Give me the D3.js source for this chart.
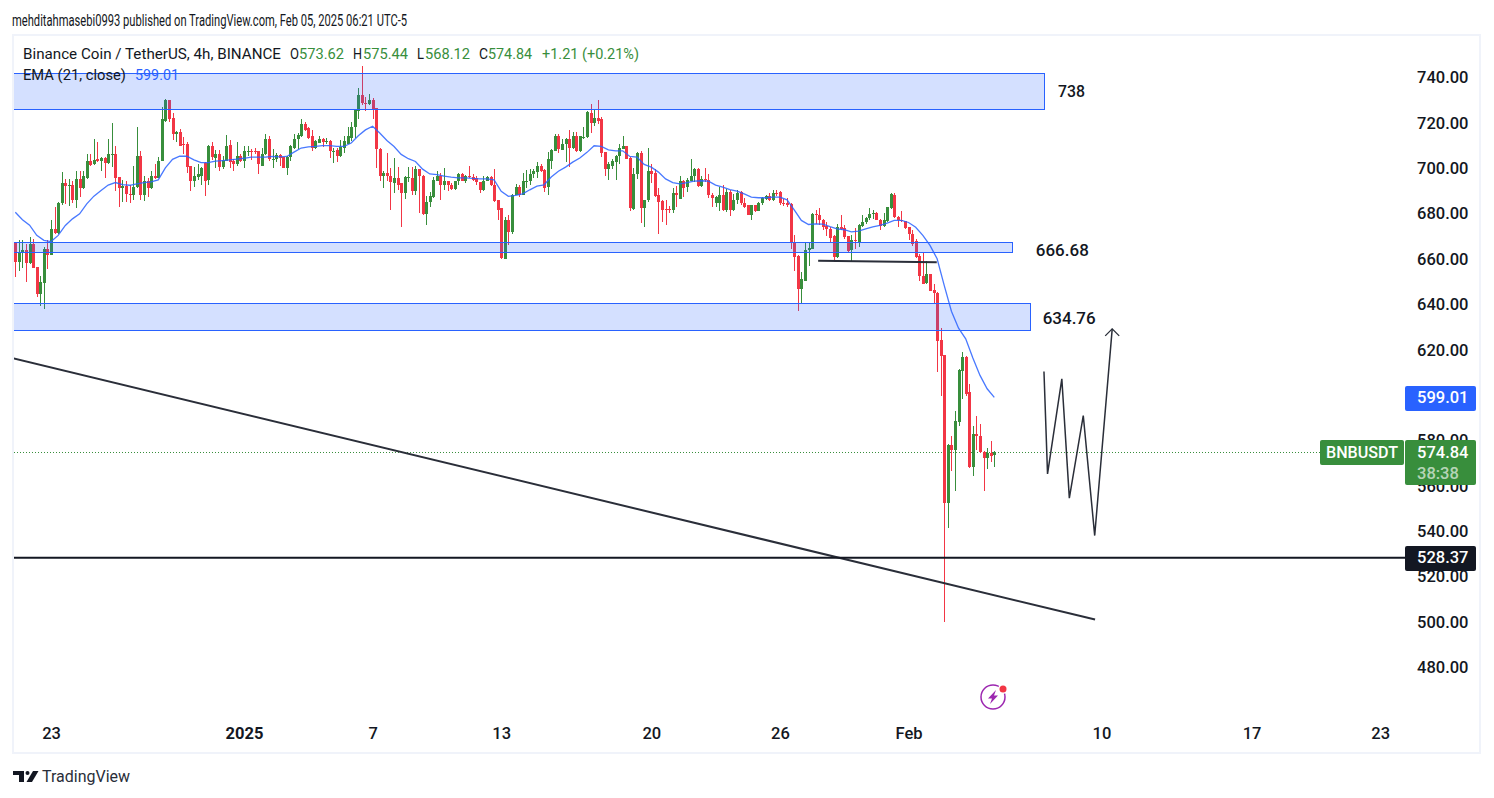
<!DOCTYPE html>
<html>
<head>
<meta charset="utf-8">
<title>BNBUSDT</title>
<script src="https://cdn.jsdelivr.net/npm/d3@7"></script>
<style>
body { margin: 0; background: #fff; }
svg { display: block; }
text { font-family: Roboto, "Noto Sans", sans-serif; fill: #131722; }
</style>
</head>
<body>
<script>
// 4h candles, one row = 10 candles
var opens = [
667.1,658.6,662.6,663.8,658.2,666.4,656.3,644.5,649.4,664.2,
661.9,673.3,671.4,684.6,693.7,692.0,692.4,685.8,695.1,691.5,
695.8,703.4,701.8,703.9,703.2,704.3,702.1,706.1,706.5,696.0,
691.2,692.1,688.8,688.4,691.7,705.6,688.0,694.6,691.2,696.8,
695.7,703.1,720.8,729.9,722.0,715.2,715.9,710.8,710.8,700.8,
694.3,696.1,696.8,702.3,694.9,710.0,704.6,706.4,700.5,703.4,
710.3,703.1,701.7,705.2,703.1,707.1,707.8,707.5,707.4,701.2,
706.1,713.1,703.9,704.0,705.9,704.9,700.1,704.9,709.0,712.8,
714.0,719.3,717.7,714.0,708.9,711.3,713.1,712.1,712.2,707.5,
708.0,705.3,709.0,710.8,713.4,718.1,725.2,732.1,728.8,728.1,
730.3,726.5,708.7,696.5,697.7,696.8,693.7,695.5,693.3,689.0,
695.8,695.9,689.8,699.5,696.8,679.8,685.1,687.3,694.6,696.8,
692.4,694.2,692.8,691.0,694.3,697.3,694.6,696.7,696.2,695.8,
693.9,690.2,694.6,696.1,692.8,685.8,682.3,660.1,677.0,672.1,
688.1,691.7,688.4,693.9,694.2,697.3,698.3,700.8,699.3,691.7,
703.4,707.8,714.4,708.1,710.8,713.0,708.9,714.4,707.4,713.6,
713.7,724.4,719.9,722.2,721.5,707.0,699.5,701.2,702.7,705.3,
708.6,709.6,704.6,682.1,697.3,706.8,682.4,685.8,698.6,697.7,
688.0,685.4,682.1,682.1,681.4,689.0,686.5,694.6,691.7,694.6,
696.5,699.5,692.0,695.3,695.0,688.4,684.9,684.8,688.0,681.8,
689.5,681.4,685.8,689.5,684.8,683.6,679.6,683.6,681.1,684.8,
686.5,687.9,685.8,689.2,689.5,684.9,684.6,684.3,667.3,661.4,
646.6,650.5,663.8,664.6,679.8,679.2,677.3,674.5,673.3,670.1,
660.7,674.3,673.7,670.1,663.8,668.2,667.4,674.5,676.1,678.0,
679.8,680.2,677.3,674.6,676.7,682.4,688.4,678.7,677.0,676.7,
674.0,671.2,667.9,661.3,652.6,649.4,653.2,646.4,645.1,624.1,
617.5,552.4,577.8,575.6,588.1,610.6,617.0,601.2,568.1,582.7,
582.2,574.9,572.2,574.6,573.62];

var highs = [
667.7,668.2,668.2,666.7,669.5,668.9,656.5,652.6,665.2,668.2,
677.0,682.7,685.0,698.2,695.4,695.1,694.3,698.6,698.6,698.6,
706.1,706.1,713.1,711.4,704.9,704.9,713.0,719.8,709.6,696.2,
694.9,694.3,692.4,700.8,718.4,707.4,696.5,695.7,698.6,701.8,
704.9,727.2,730.6,730.3,724.4,716.3,717.1,713.6,711.5,701.0,
700.5,701.7,700.5,702.7,710.2,711.5,708.1,708.1,705.3,714.7,
712.5,704.2,711.5,706.4,709.6,709.8,708.6,709.0,707.6,709.0,
715.3,714.4,708.7,706.7,706.4,705.1,705.2,710.3,715.2,715.6,
721.5,720.3,718.1,716.9,712.5,714.4,713.3,713.4,712.5,709.0,
709.0,712.5,714.1,718.1,720.2,725.7,735.2,744.9,731.3,732.8,
731.0,726.7,708.9,698.6,706.8,700.3,704.7,700.5,693.5,696.8,
700.5,700.5,701.2,699.7,697.0,687.6,689.5,696.1,698.6,697.8,
700.2,694.4,693.4,694.6,697.8,697.8,697.0,701.2,697.5,696.4,
694.1,696.8,696.5,696.8,699.7,686.0,682.5,678.7,679.2,688.6,
692.9,692.7,697.7,699.3,699.5,699.8,702.7,702.0,699.5,707.1,
708.6,715.2,715.2,713.0,713.3,717.0,715.9,715.9,714.2,718.4,
725.2,728.4,725.9,729.9,722.5,707.2,702.7,704.2,706.0,710.8,
714.4,710.0,704.9,700.2,707.1,707.5,686.2,709.0,701.7,699.8,
691.4,685.8,685.8,683.2,691.4,692.0,696.8,694.9,695.8,703.9,
700.2,700.2,696.4,700.0,697.3,689.0,687.6,691.7,692.4,691.0,
690.2,688.7,690.2,689.8,687.1,683.8,684.0,683.9,685.1,687.3,
688.2,689.0,690.2,690.6,689.9,686.5,686.7,684.5,670.4,661.6,
654.3,667.7,667.4,680.2,681.4,682.6,677.5,676.2,674.0,670.4,
675.5,679.5,675.2,670.3,670.7,673.7,675.5,679.5,678.7,682.6,
681.4,680.5,677.5,680.4,682.9,688.9,689.2,678.9,681.2,676.9,
674.2,672.6,668.9,662.3,662.6,658.9,653.4,649.1,645.3,629.8,
617.7,578.3,582.2,593.2,611.3,618.8,617.2,605.0,586.6,590.6,
587.4,575.3,576.8,579.6,575.44];

var lows = [
652.0,654.7,656.0,649.8,658.0,656.0,643.2,639.2,637.9,655.4,
661.7,670.8,671.1,683.6,684.2,683.3,684.6,682.4,687.3,691.0,
695.4,700.8,701.5,702.8,698.6,695.8,701.8,700.5,689.8,682.9,
685.1,685.1,684.6,686.2,691.5,686.2,685.4,687.3,691.0,695.4,
695.5,703.0,720.2,720.6,712.5,711.5,709.8,706.1,697.9,689.9,
691.7,694.9,692.4,687.7,692.7,703.5,700.2,699.0,699.8,703.2,
700.0,699.0,701.1,702.7,700.0,705.2,703.7,706.4,697.5,701.0,
705.9,703.1,700.1,702.7,700.8,699.9,697.0,703.0,708.6,708.6,
713.7,716.6,712.7,707.5,708.6,711.2,709.3,710.5,704.5,702.3,
702.7,705.1,706.7,710.5,712.2,713.4,721.8,727.7,725.2,727.7,
721.8,700.1,694.6,691.1,694.6,681.4,689.0,690.2,674.3,686.5,
693.9,688.4,688.0,680.4,679.6,674.8,682.9,687.1,694.3,685.8,
690.2,689.9,690.5,690.2,692.8,694.3,693.4,695.8,694.6,692.4,
689.3,690.0,694.3,692.0,685.1,677.3,660.1,659.8,666.0,670.8,
688.0,687.3,688.0,691.2,692.8,695.8,695.8,698.3,689.5,688.0,
699.5,707.5,706.7,708.0,702.7,700.5,708.6,707.1,707.2,712.7,
713.5,715.5,718.6,719.3,704.9,696.4,694.9,699.5,695.0,702.0,
708.4,703.9,681.1,681.7,695.4,676.0,674.0,685.1,693.4,687.3,
670.8,676.2,674.8,680.2,680.2,682.9,686.3,687.3,689.5,694.3,
693.9,691.7,691.7,693.9,687.0,682.9,682.9,681.0,681.1,680.6,
678.9,681.1,684.3,683.6,682.6,679.2,677.4,680.8,681.0,683.6,
685.8,685.5,685.5,687.6,683.6,683.4,683.1,664.3,654.6,637.3,
640.8,650.3,656.7,664.4,675.5,674.8,673.0,670.1,667.1,658.6,
660.5,672.9,668.9,662.7,659.0,664.2,665.5,674.0,675.5,677.0,
677.7,677.0,673.0,674.3,676.2,682.2,678.1,674.0,676.2,673.3,
668.4,665.9,660.5,650.5,648.8,649.1,645.8,640.5,610.1,599.8,
499.9,541.4,566.5,557.7,586.3,598.1,599.8,567.7,564.3,575.6,
574.4,557.7,567.4,570.5,568.12];

var closes = [
658.6,663.2,663.8,658.2,666.4,656.0,644.5,649.7,664.2,661.6,
673.3,671.4,684.9,693.7,692.0,692.4,685.8,695.1,691.5,696.4,
703.4,701.6,703.7,703.0,704.5,702.1,706.1,706.5,695.7,691.4,
692.0,688.8,688.6,691.8,705.6,688.0,694.5,691.2,696.8,695.7,
703.4,721.5,729.9,721.5,715.0,715.9,710.0,710.3,700.5,694.3,
696.4,697.4,700.2,694.6,710.0,704.9,706.5,700.5,703.7,710.0,
702.7,701.7,705.2,703.1,707.5,707.8,707.5,707.2,701.7,706.4,
713.1,704.0,704.0,705.9,704.5,700.1,704.9,709.7,713.1,714.6,
719.3,716.9,713.4,708.9,711.8,713.1,711.5,712.2,707.5,707.8,
705.3,709.3,712.2,714.0,718.4,725.5,732.1,728.7,728.4,730.3,
725.9,708.4,696.5,697.7,696.5,693.9,695.5,692.8,689.0,696.1,
696.1,689.9,699.5,696.5,679.9,685.3,687.6,695.0,696.5,692.4,
694.2,692.4,691.0,694.5,697.3,694.6,696.8,696.1,695.0,693.9,
690.2,694.6,696.1,692.4,685.5,681.8,660.4,677.0,672.1,688.4,
691.7,688.4,694.2,694.6,697.5,698.6,700.8,698.9,691.4,703.9,
708.1,714.4,708.3,710.8,713.0,708.9,714.4,707.4,714.0,713.9,
724.7,719.9,722.2,721.0,706.7,699.5,701.7,703.0,705.6,709.0,
709.6,704.2,682.4,697.5,706.8,682.4,686.1,698.6,697.3,687.6,
685.1,681.8,681.8,681.8,689.0,688.4,694.6,691.4,694.9,696.8,
699.5,692.0,695.3,694.9,688.0,686.8,687.3,688.0,681.8,689.5,
681.4,686.2,689.0,684.6,683.1,679.6,683.6,681.1,684.9,687.0,
687.9,685.8,689.3,688.9,684.6,684.3,683.9,667.0,661.1,646.6,
651.0,664.0,664.9,679.8,679.2,677.0,674.3,673.2,669.3,660.7,
674.3,673.3,669.6,663.6,668.2,667.9,675.1,676.5,678.1,679.9,
680.2,677.1,674.6,677.0,682.7,688.6,678.4,677.0,676.7,673.6,
671.1,666.7,660.8,652.4,649.1,653.2,646.1,644.9,623.8,617.2,
552.4,578.1,575.6,588.4,610.9,617.0,600.6,568.1,582.7,581.9,
574.9,572.2,574.3,573.0,574.84];

var emaValues = [
680.6,677.3,674.9,670.4,668.2,667.7,670.4,674.8,677.7,679.9,
684.3,687.7,690.2,692.6,693.7,692.8,692.5,693.1,693.7,694.0,
694.9,700.2,703.9,705.3,705.3,703.7,702.5,702.5,703.1,703.4,
703.7,704.0,704.4,704.9,704.9,704.9,705.2,705.0,705.2,707.1,
708.9,709.4,709.6,710.0,710.0,709.6,709.6,711.1,714.3,716.9,
718.5,715.5,712.2,709.6,706.1,704.2,703.0,699.6,697.5,697.2,
696.5,696.1,695.8,695.8,695.5,695.3,695.3,694.9,689.8,687.6,
688.0,688.7,690.5,692.1,692.7,696.1,698.7,700.5,702.7,704.5,
707.0,709.9,709.6,708.1,707.7,707.7,705.2,704.9,701.7,700.5,
698.3,695.3,693.7,693.1,693.7,694.3,694.5,694.3,692.6,691.7,
690.6,689.9,688.7,687.3,687.0,687.0,687.3,687.3,686.1,681.7,
677.0,675.2,675.5,675.4,674.3,673.3,672.9,672.0,672.3,673.3,
674.2,674.8,675.8,677.0,677.0,676.1,674.0,670.4,666.0,660.1,
648.3,637.0,629.5,624.8,616.4,608.7,602.8,599.01];

var priceTicks = [740, 720, 700, 680, 660, 640, 620, 580, 560, 540, 520, 500, 480];
var timeTicks = [
    Date.UTC(2024, 11, 23), Date.UTC(2025, 0, 1), Date.UTC(2025, 0, 7), Date.UTC(2025, 0, 13),
    Date.UTC(2025, 0, 20), Date.UTC(2025, 0, 26), Date.UTC(2025, 1, 1), Date.UTC(2025, 1, 10),
    Date.UTC(2025, 1, 17), Date.UTC(2025, 1, 23)
];
var timeLabels = ['23', '2025', '7', '13', '20', '26', 'Feb', '10', '17', '23'];

// supply and demand boxes (prices, last candle index they reach)
var zoneTops = [742.2, 667.3, 640.8];
var zoneBottoms = [726.3, 662.9, 628.6];
var zoneEnds = [287.9, 278.9, 283.9];
var zoneLabels = ['738', '666.68', '634.76'];
var zoneLabelOffsets = [14, 24, 13];
var zoneLabelWidths = [27, 53, 53];
var zoneLabelDrop = [1, 3, 2];

// drawings
var trendIdx = [-0.6, 302.2], trendPrices = [616.2, 501.1];
var shelfIdx = [224.7, 257.9], shelfPrices = [659.2, 658.6];
var zigIdx = [287.9, 288.9, 292.9, 295.0, 298.9, 302.1, 307.0];
var zigPrices = [610.4, 565.3, 607.2, 554.6, 591.0, 538.1, 629.2];
var supportPrice = 528.37, lastPrice = 574.84, emaLast = 599.01;

var width = 1494, height = 798,
    paneLeft = 14, paneRight = 1405, paneTop = 36, paneBottom = 720,
    green = '#388e3c', red = '#f23645', blue = '#2962ff', ink = '#131722';

var startTime = Date.UTC(2024, 11, 21, 8),
    stepMs = 4 * 3600 * 1000;

function timeOf(i) {
    return new Date(startTime + i * stepMs);
}

var x = d3.scaleUtc()
    .domain([timeOf(0), timeOf(274)])
    .range([15.3, 994.3]);

var y = d3.scaleLinear()
    .domain([740, 500])
    .range([77.5, 622]);

var svg = d3.select('body').append('svg')
    .attr('width', width)
    .attr('height', height);

svg.append('defs').append('clipPath')
    .attr('id', 'pane')
    .append('rect')
    .attr('x', paneLeft)
    .attr('y', paneTop)
    .attr('width', paneRight - paneLeft)
    .attr('height', paneBottom - paneTop);

// frame
svg.append('rect')
    .attr('x', 13)
    .attr('y', 35)
    .attr('width', 1467)
    .attr('height', 718)
    .attr('fill', 'none')
    .attr('stroke', '#f0f3fa')
    .attr('stroke-width', 2);

// Price axis goes first, the price tags sit over it
var yAxis = svg.append('g')
    .attr('transform', 'translate(' + paneRight + ',0)')
    .call(d3.axisRight(y).tickValues(priceTicks).tickSize(0).tickPadding(12).tickFormat(d3.format('.2f')));
yAxis.select('.domain').remove();
yAxis.selectAll('text')
    .style('font-family', 'Roboto')
    .style('font-size', '16.5px')
    .style('font-weight', 500)
    .style('fill', ink);

var xAxis = svg.append('g')
    .attr('transform', 'translate(0,' + paneBottom + ')')
    .call(d3.axisBottom(x)
        .tickValues(timeTicks.map(function (t) { return new Date(t); }))
        .tickSize(0)
        .tickPadding(7)
        .tickFormat(function (d, i) { return timeLabels[i]; }));
xAxis.select('.domain').remove();
xAxis.selectAll('text')
    .style('font-family', 'Roboto')
    .style('font-size', '16.5px')
    .style('font-weight', function (d, i) { return timeLabels[i] === '2025' ? 700 : 500; })
    .style('fill', ink);

var plot = svg.append('g').attr('clip-path', 'url(#pane)');

// last price dotted line
plot.append('line')
    .attr('x1', paneLeft)
    .attr('x2', 1320)
    .attr('y1', Math.round(y(lastPrice)) + 0.5)
    .attr('y2', Math.round(y(lastPrice)) + 0.5)
    .attr('stroke', green)
    .attr('stroke-dasharray', '1 2');

// candles
var candles = plot.append('g')
    .attr('shape-rendering', 'crispEdges')
    .selectAll('g')
    .data(d3.range(closes.length))
    .enter().append('g')
    .attr('fill', function (i) { return closes[i] >= opens[i] ? green : red; });

candles.append('rect')
    .attr('x', function (i) { return Math.round(x(timeOf(i))); })
    .attr('width', 1)
    .attr('y', function (i) { return Math.round(y(highs[i])); })
    .attr('height', function (i) { return Math.max(1, Math.round(y(lows[i])) - Math.round(y(highs[i]))); });

candles.append('rect')
    .attr('x', function (i) { return Math.round(x(timeOf(i))) - 1; })
    .attr('width', 3)
    .attr('y', function (i) { return Math.round(y(Math.max(opens[i], closes[i]))); })
    .attr('height', function (i) {
        return Math.max(1, Math.round(y(Math.min(opens[i], closes[i]))) - Math.round(y(Math.max(opens[i], closes[i]))));
    });

// EMA
var emaLine = d3.line()
    .x(function (d, i) { return x(timeOf(i * 2)); })
    .y(function (d) { return y(d); });

plot.append('path')
    .attr('d', emaLine(emaValues))
    .attr('fill', 'none')
    .attr('stroke', blue)
    .attr('stroke-opacity', 0.85)
    .attr('stroke-width', 1.3);

// boxes
zoneTops.forEach(function (top, n) {
    plot.append('rect')
        .attr('x', 0)
        .attr('y', Math.round(y(top)) + 0.5)
        .attr('width', Math.round(x(timeOf(zoneEnds[n]))) + 0.5)
        .attr('height', Math.round(y(zoneBottoms[n])) - Math.round(y(top)))
        .attr('fill', blue)
        .attr('fill-opacity', 0.2)
        .attr('stroke', blue)
        .attr('stroke-width', 1);

    svg.append('text')
        .attr('x', x(timeOf(zoneEnds[n])) + zoneLabelOffsets[n])
        .attr('y', (y(top) + y(zoneBottoms[n])) / 2 + zoneLabelDrop[n])
        .attr('dy', '0.35em')
        .attr('textLength', zoneLabelWidths[n])
        .attr('lengthAdjust', 'spacingAndGlyphs')
        .style('font-size', '17px')
        .style('font-weight', 500)
        .text(zoneLabels[n]);
});

function drawn(idx, prices) {
    return d3.line()
        .x(function (d) { return x(timeOf(d)); })
        .y(function (d, i) { return y(prices[i]); })(idx);
}

plot.append('path')
    .attr('d', drawn(trendIdx, trendPrices))
    .attr('stroke', '#2a2e39')
    .attr('stroke-width', 2)
    .attr('fill', 'none');

plot.append('path')
    .attr('d', drawn(shelfIdx, shelfPrices))
    .attr('stroke', '#2a2e39')
    .attr('stroke-width', 2)
    .attr('fill', 'none');

plot.append('line')
    .attr('x1', paneLeft)
    .attr('x2', paneRight)
    .attr('y1', y(supportPrice))
    .attr('y2', y(supportPrice))
    .attr('stroke', ink)
    .attr('stroke-width', 2);

plot.append('path')
    .attr('d', drawn(zigIdx, zigPrices))
    .attr('stroke', '#2a2e39')
    .attr('stroke-width', 1.5)
    .attr('fill', 'none');

// arrow head on the zigzag
var tipX = x(timeOf(zigIdx[6])), tipY = y(zigPrices[6]);
plot.append('path')
    .attr('d', 'M' + (tipX - 7) + ',' + (tipY + 7) + 'L' + tipX + ',' + tipY + 'L' + (tipX + 7) + ',' + (tipY + 7))
    .attr('stroke', '#2a2e39')
    .attr('stroke-width', 1.3)
    .attr('fill', 'none');

// price tags
function tag(top, h, color) {
    svg.append('rect')
        .attr('x', paneRight)
        .attr('y', top)
        .attr('width', 71)
        .attr('height', h)
        .attr('rx', 2)
        .attr('fill', color);
}

function tagText(label, cy, opacity) {
    svg.append('text')
        .attr('x', 1417)
        .attr('y', cy)
        .attr('dy', '0.35em')
        .style('fill', '#fff')
        .style('fill-opacity', opacity)
        .style('font-size', '16.5px')
        .style('font-weight', 500)
        .text(label);
}

tag(386, 25, blue);
tagText(d3.format('.2f')(emaLast), y(emaLast), 1);
tag(440, 45, green);
tagText(d3.format('.2f')(lastPrice), y(lastPrice), 1);
tagText('38:38', 473, 0.65);
tag(546, 25, ink);
tagText(d3.format('.2f')(supportPrice), y(supportPrice), 1);

svg.append('rect')
    .attr('x', 1320)
    .attr('y', 440)
    .attr('width', 84)
    .attr('height', 25)
    .attr('rx', 2)
    .attr('fill', green);
svg.append('text')
    .attr('x', 1326)
    .attr('y', 452.5)
    .attr('dy', '0.35em')
    .attr('textLength', 72)
    .attr('lengthAdjust', 'spacingAndGlyphs')
    .style('fill', '#fff')
    .style('font-size', '16.5px')
    .style('font-weight', 500)
    .text('BNBUSDT');

// Text squeezed to the width it has in the reference
function label(str, left, cy, w, color, size, weight) {
    svg.append('text')
        .attr('x', left)
        .attr('y', cy)
        .attr('dy', '0.35em')
        .attr('textLength', w)
        .attr('lengthAdjust', 'spacingAndGlyphs')
        .style('fill', color)
        .style('font-size', (size || 15) + 'px')
        .style('font-weight', weight || 400)
        .text(str);
}

label('mehditahmasebi0993 published on TradingView.com, Feb 05, 2025 06:21 UTC-5', 12, 20, 395, ink, 16);
label('Binance Coin / TetherUS, 4h, BINANCE', 23, 54, 258, ink);
label('O', 290, 54, 9, ink);
label('573.62', 299, 54, 45, green);
label('H', 353, 54, 9, ink);
label('575.44', 363, 54, 45, green);
label('L', 417, 54, 7, ink);
label('568.12', 425, 54, 45, green);
label('C', 479, 54, 9, ink);
label('574.84', 488, 54, 44, green);
label('+1.21 (+0.21%)', 542, 54, 97, green);
label('EMA (21, close)', 23, 75, 103, ink);
label('599.01', 135, 75, 44, blue);

// bolt badge
var badge = svg.append('g').attr('transform', 'translate(993,697)');
badge.append('circle')
    .attr('r', 12)
    .attr('fill', '#fff')
    .attr('stroke', '#9c27b0')
    .attr('stroke-width', 1.5);
badge.append('path')
    .attr('d', 'M3,-7L-5,1.5H-1L-3,7L5,-1.5H1Z')
    .attr('fill', '#9c27b0');
badge.append('circle')
    .attr('cx', 10)
    .attr('cy', -8)
    .attr('r', 5)
    .attr('fill', '#fff');
badge.append('circle')
    .attr('cx', 10)
    .attr('cy', -8)
    .attr('r', 3.5)
    .attr('fill', '#f23645');

// TradingView mark
var logo = svg.append('g').attr('fill', ink);
logo.append('path').attr('d', 'M13,771H24V782H19V775H13Z');
logo.append('circle').attr('cx', 27.5).attr('cy', 773).attr('r', 2);
logo.append('path').attr('d', 'M33,771H38.5L32,782H26.5Z');
label('TradingView', 42, 776.5, 88, '#2a2e39', 16);
</script>
</body>
</html>
